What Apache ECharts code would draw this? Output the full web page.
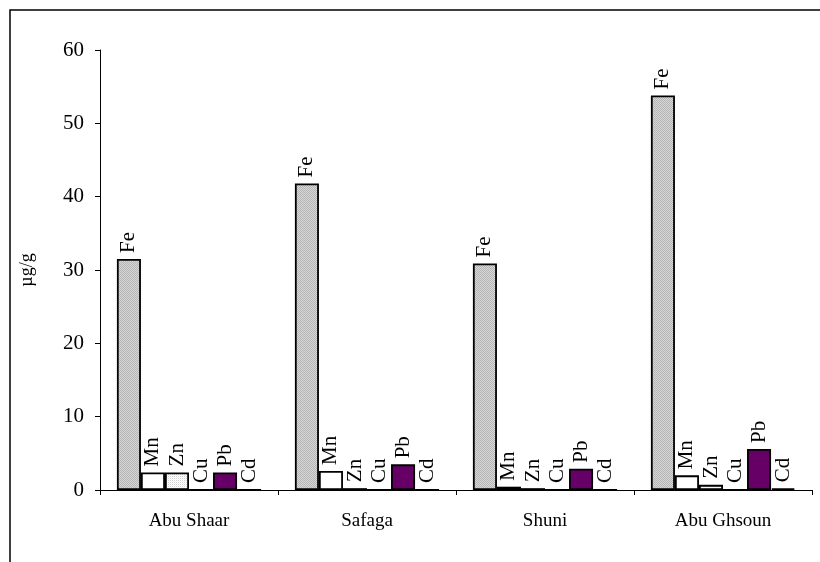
<!DOCTYPE html>
<html>
<head>
<meta charset="utf-8">
<script src="https://cdn.jsdelivr.net/npm/echarts@6/dist/echarts.min.js"></script>
<style>
  html, body { margin: 0; padding: 0; background: #fff; }
  #chart { width: 820px; height: 562px; }
</style>
</head>
<body>
<div id="chart"></div>
<script>
// Sampling sites and element concentrations (µg/g)
const sites = ['Abu Shaar', 'Safaga', 'Shuni', 'Abu Ghsoun'];
const elements = ['Fe', 'Mn', 'Zn', 'Cu', 'Pb', 'Cd'];
const fe = [31.5, 41.8, 30.9, 53.8];
const mn = [2.4, 2.6, 0.45, 2.0];
const zn = [2.4, 0.25, 0.25, 0.7];
const cu = [0, 0, 0, 0];
const pb = [2.4, 3.5, 2.9, 5.6];
const cd = [0, 0, 0, 0.2];
const yTicks = [0, 10, 20, 30, 40, 50, 60];

const seriesValues = [fe, mn, zn, cu, pb, cd];

// Small tiled fills for the stippled bars
function makePattern(cells, size) {
  const c = document.createElement('canvas');
  c.width = size; c.height = size;
  const ctx = c.getContext('2d');
  cells.forEach(([x, y, col]) => { ctx.fillStyle = col; ctx.fillRect(x, y, 1, 1); });
  return { image: c, repeat: 'repeat' };
}
const feFill = makePattern([[0,0,'#b4b4b4'],[1,0,'#d8d8d8'],[0,1,'#d8d8d8'],[1,1,'#b4b4b4']], 2);
const znFill = makePattern([[0,0,'#d0d0d0'],[1,0,'#ffffff'],[0,1,'#ffffff'],[1,1,'#f2f2f2']], 2);
const fills = [feFill, '#ffffff', znFill, '#ffffff', '#660066', '#000000'];

const serif = 'Liberation Serif';

const chart = echarts.init(document.getElementById('chart'), null, { renderer: 'canvas' });

chart.setOption({
  animation: false,
  backgroundColor: '#fff',
  graphic: [{
    type: 'rect',
    shape: { x: 10, y: 10, width: 900, height: 700 },
    style: { fill: 'none', stroke: '#000', lineWidth: 1.5 },
    silent: true
  }],
  grid: { left: 100, right: 8, top: 50, bottom: 72 },
  xAxis: {
    type: 'category',
    data: sites,
    axisLine: { lineStyle: { color: '#000', width: 1 } },
    axisTick: { show: true, length: 5, lineStyle: { color: '#000' } },
    axisLabel: { color: '#000', fontFamily: serif, fontSize: 19, margin: 22 }
  },
  yAxis: {
    type: 'value',
    min: yTicks[0],
    max: yTicks[yTicks.length - 1],
    interval: yTicks[1] - yTicks[0],
    name: 'µg/g',
    nameLocation: 'middle',
    nameGap: 64,
    nameRotate: 90,
    nameTextStyle: { color: '#000', fontFamily: serif, fontSize: 18 },
    axisLine: { show: true, lineStyle: { color: '#000', width: 1 } },
    axisTick: { show: true, length: 5, lineStyle: { color: '#000' } },
    axisLabel: { color: '#000', fontFamily: serif, fontSize: 21, margin: 16 },
    splitLine: { show: false }
  },
  series: elements.map((name, i) => ({
    name: name,
    type: 'bar',
    data: seriesValues[i],
    barGap: '0%',
    barCategoryGap: '19%',
    itemStyle: { color: fills[i], borderColor: '#000', borderWidth: 1.8 },
    label: {
      show: true,
      position: 'top',
      rotate: 90,
      align: 'left',
      verticalAlign: 'middle',
      distance: 6,
      formatter: name,
      color: '#000',
      fontFamily: serif,
      fontSize: 21
    }
  }))
});
</script>
</body>
</html>
